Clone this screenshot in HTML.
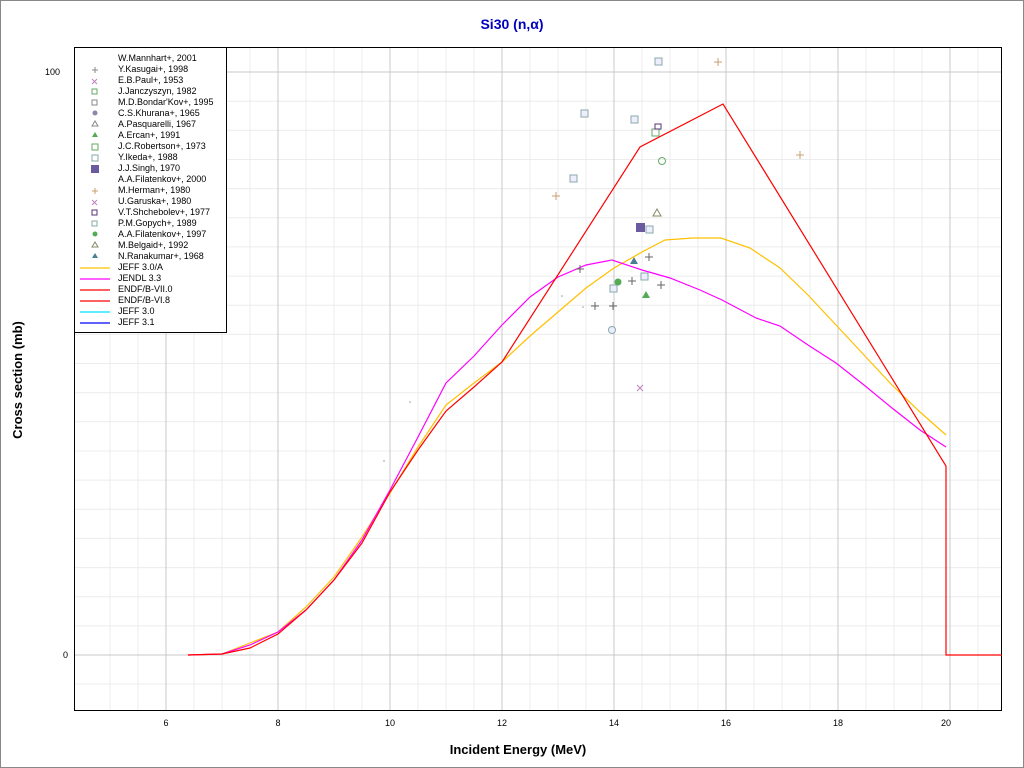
<!DOCTYPE html><html><head><meta charset="utf-8"><style>body{margin:0;background:#fff}svg{display:block;font-family:"Liberation Sans",sans-serif}</style></head><body>
<svg width="1024" height="768" xmlns="http://www.w3.org/2000/svg">
<rect x="0.5" y="0.5" width="1023" height="767" fill="#fff" stroke="#888"/>
<text x="512" y="29" text-anchor="middle" font-size="14" font-weight="bold" fill="#0000c0">Si30 (n,α)</text>
<g stroke="#ececec">
<path d="M110 47V710M138 47V710M194 47V710M222 47V710M250 47V710M306 47V710M334 47V710M362 47V710M418 47V710M446 47V710M474 47V710M530 47V710M558 47V710M586 47V710M642 47V710M670 47V710M698 47V710M754 47V710M782 47V710M810 47V710M866 47V710M894 47V710M922 47V710M978 47V710"/>
<path d="M74 101.2H1002M74 130.3H1002M74 159.5H1002M74 188.6H1002M74 217.8H1002M74 246.9H1002M74 276.1H1002M74 305.2H1002M74 334.4H1002M74 363.5H1002M74 392.7H1002M74 421.8H1002M74 451H1002M74 480.1H1002M74 509.3H1002M74 538.4H1002M74 567.6H1002M74 596.7H1002M74 625.9H1002M74 684H1002"/>
</g>
<g stroke="#c8c8c8">
<path d="M166 47V710M278 47V710M390 47V710M502 47V710M614 47V710M726 47V710M838 47V710M950 47V710M74 72H1002M74 655H1002"/>
</g>
<rect x="74.5" y="47.5" width="927" height="663" fill="none" stroke="#000"/>
<g font-size="9" fill="#000" text-anchor="middle">
<text x="166" y="726">6</text><text x="278" y="726">8</text><text x="390" y="726">10</text><text x="502" y="726">12</text><text x="614" y="726">14</text><text x="726" y="726">16</text><text x="838" y="726">18</text><text x="946" y="726">20</text>
<text x="60" y="75" text-anchor="end">100</text><text x="68" y="658" text-anchor="end">0</text>
</g>
<text x="518" y="754" text-anchor="middle" font-size="13" font-weight="bold">Incident Energy (MeV)</text>
<text transform="translate(22,380) rotate(-90)" text-anchor="middle" font-size="13" font-weight="bold">Cross section (mb)</text>
<g fill="none" stroke-width="1.2">
<polyline stroke="#ffc000" points="188,655 222,654 250,643 278,632 306,607 334,577 362,537 390,493 418,447 446,405 474,383 502,362 530,336 558,312 586,288 614,268 642,252 665,240 693,238 721,238 750,248 780,268 808,295 836,325 864,355 892,385 920,412 946,435"/>
<polyline stroke="#ff00ff" points="188,655 222,654 250,645 278,632 306,610 334,580 362,540 390,490 418,437 446,383 474,356 502,325 530,297 558,277 586,265 612,260 642,270 670,278 700,290 722,300 756,318 780,326 808,345 836,363 864,385 892,408 920,430 946,447"/>
<polyline stroke="#ff0000" points="188,655 222,654 250,648 278,634 306,610 334,580 362,543 390,492 418,450 446,411 474,387 502,362 640,147 723,104 946,466 946,655 1002,655"/>
</g>
<g fill="none" stroke="#666">
<path d="M576 269h8M580 265v8M591 306h8M595 302v8M609 306h8M613 302v8M628 281h8M632 277v8M645 257h8M649 253v8M657 285h8M661 281v8"/>
</g>
<g fill="none" stroke="#c8a070"><path d="M552 196h8M556 192v8M714 62h8M718 58v8M796 155h8M800 151v8"/></g>
<path d="M637 385l6 6M643 385l-6 6" stroke="#c080c0"/>
<g fill="#eef" stroke="#8aa">
<rect x="655" y="58" width="7" height="7"/><rect x="581" y="110" width="7" height="7"/><rect x="631" y="116" width="7" height="7"/><rect x="570" y="175" width="7" height="7"/><rect x="646" y="226" width="7" height="7"/><rect x="610" y="285" width="7" height="7"/><rect x="641" y="273" width="7" height="7"/><circle cx="612" cy="330" r="3.5"/>
</g>
<rect x="652" y="129" width="7" height="7" fill="none" stroke="#6a6"/>
<circle cx="662" cy="161" r="3.5" fill="none" stroke="#6a6"/>
<rect x="655" y="124" width="6" height="5" fill="none" stroke="#537"/>
<rect x="636" y="223" width="9" height="9" fill="#6a5aa0"/>
<path d="M653 216l4-7 4 7z" fill="none" stroke="#886"/>
<path d="M630 264l4-7 4 7z" fill="#4a8090"/>
<path d="M642 298l4-7 4 7z" fill="#5a5"/>
<circle cx="618" cy="282" r="3.5" fill="#5a5"/>
<g fill="#999"><circle cx="410" cy="402" r="0.8"/><circle cx="384" cy="461" r="0.8"/><circle cx="562" cy="296" r="0.8"/><circle cx="583" cy="307" r="0.8"/><circle cx="611" cy="260" r="0.8"/></g>
<rect x="74.5" y="47.5" width="152" height="285" fill="#fff" stroke="#000"/>
<g font-size="9" fill="#000">
<text x="118" y="61">W.Mannhart+, 2001</text><text x="118" y="72">Y.Kasugai+, 1998</text><text x="118" y="83">E.B.Paul+, 1953</text><text x="118" y="94">J.Janczyszyn, 1982</text><text x="118" y="105">M.D.Bondar'Kov+, 1995</text><text x="118" y="116">C.S.Khurana+, 1965</text><text x="118" y="127">A.Pasquarelli, 1967</text><text x="118" y="138">A.Ercan+, 1991</text><text x="118" y="149">J.C.Robertson+, 1973</text><text x="118" y="160">Y.Ikeda+, 1988</text><text x="118" y="171">J.J.Singh, 1970</text><text x="118" y="182">A.A.Filatenkov+, 2000</text><text x="118" y="193">M.Herman+, 1980</text><text x="118" y="204">U.Garuska+, 1980</text><text x="118" y="215">V.T.Shchebolev+, 1977</text><text x="118" y="226">P.M.Gopych+, 1989</text><text x="118" y="237">A.A.Filatenkov+, 1997</text><text x="118" y="248">M.Belgaid+, 1992</text><text x="118" y="259">N.Ranakumar+, 1968</text><text x="118" y="270">JEFF 3.0/A</text><text x="118" y="281">JENDL 3.3</text><text x="118" y="292">ENDF/B-VII.0</text><text x="118" y="303">ENDF/B-VI.8</text><text x="118" y="314">JEFF 3.0</text><text x="118" y="325">JEFF 3.1</text>
</g>
<g stroke-width="1.2">
<path d="M80 268H110" stroke="#ffc000"/><path d="M80 279H110" stroke="#ff00ff"/><path d="M80 290H110" stroke="#ff0000"/><path d="M80 301H110" stroke="#ff0000"/><path d="M80 312H110" stroke="#00e0ff"/><path d="M80 323H110" stroke="#0000ff"/>
</g>
<g stroke="#888" fill="none">
<path d="M92 70h6M95 67v6"/><path d="M92 79l5 5M97 79l-5 5" stroke="#c080c0"/>
<rect x="92" y="89" width="5" height="5" stroke="#6a6"/><rect x="92" y="100" width="5" height="5"/>
<circle cx="95" cy="113" r="2.5" fill="#88a" stroke="none"/><path d="M92 126l3-5 3 5z"/><path d="M92 137l3-5 3 5z" fill="#5a5" stroke="none"/>
<rect x="92" y="144" width="6" height="6" stroke="#6a6"/><rect x="92" y="155" width="6" height="6" stroke="#8aa"/><rect x="91" y="165" width="8" height="8" fill="#6a5aa0" stroke="none"/>
<path d="M92 191h6M95 188v6" stroke="#c8a070"/><path d="M92 200l5 5M97 200l-5 5" stroke="#c080c0"/><rect x="92" y="210" width="5" height="5" stroke="#537"/><rect x="92" y="221" width="5" height="5" stroke="#8aa"/>
<circle cx="95" cy="234" r="2.5" fill="#5a5" stroke="none"/><path d="M92 247l3-5 3 5z" stroke="#886"/><path d="M92 258l3-5 3 5z" fill="#4a8090" stroke="none"/>
</g>
</svg>
</body></html>
